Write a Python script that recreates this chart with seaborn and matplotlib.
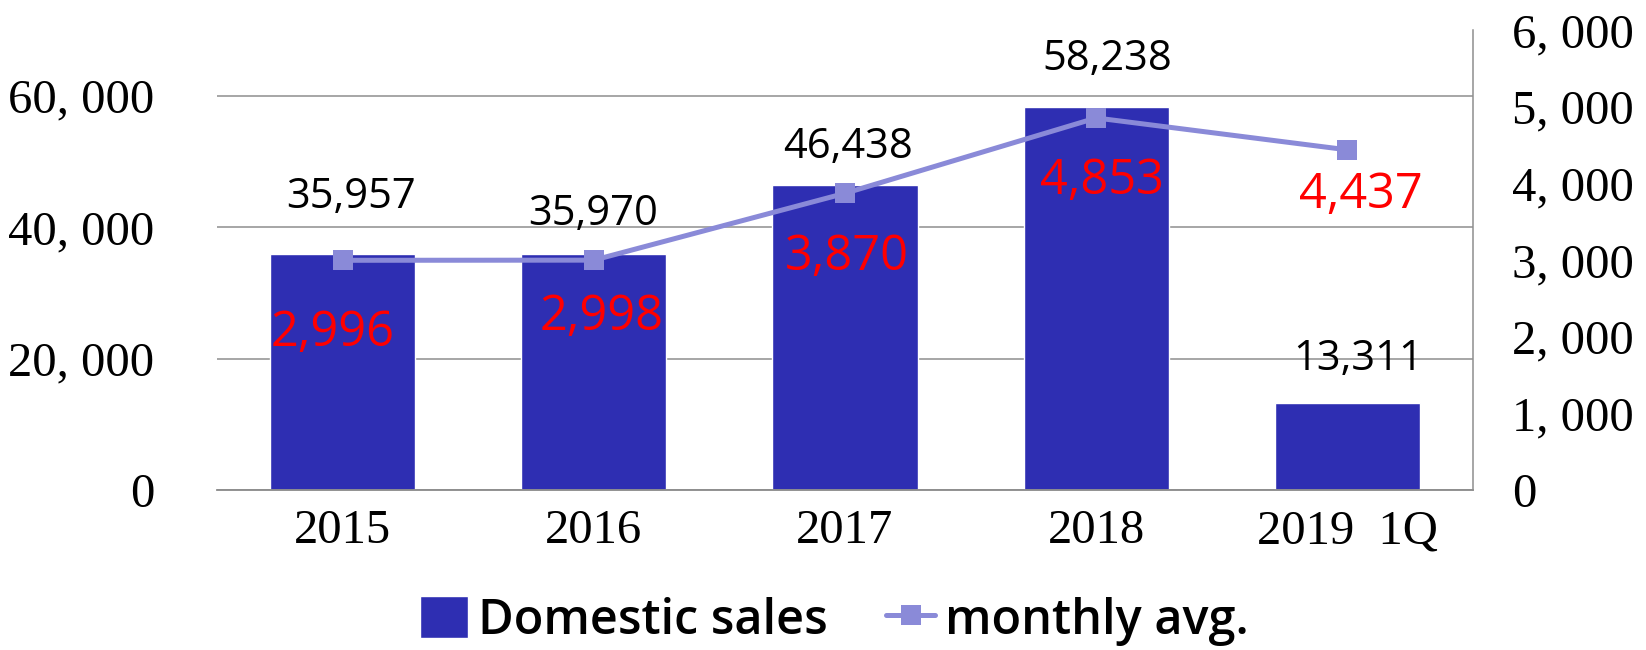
import numpy as np
import pandas as pd
import matplotlib
matplotlib.use('Agg')
import matplotlib.pyplot as plt
import seaborn as sns

# chart data
years = ['2015', '2016', '2017', '2018', '2019  1Q']
domestic_sales = [35957, 35970, 46438, 58238, 13311]
monthly_avg = [2996, 2998, 3870, 4853, 4437]

# hand-placed label offsets (px)
sales_off = [(9, 57), (-1, 40), (3, 38), (11, 48), (11, 44)]
avg_off = [(-10, -73), (8, -57), (2, -64), (6, -63), (13, -45)]

BAR = '#2E2EB2'
LINE = '#8A8AD8'
GRID = '#8E8E8E'

df = pd.DataFrame({'Year': years, 'Sales': domestic_sales, 'Avg': monthly_avg})

sns.set_style('white')
plt.rcParams['font.family'] = ['Open Sans', 'DejaVu Sans']
plt.rcParams['text.color'] = 'black'
plt.rcParams['xtick.color'] = 'black'
plt.rcParams['ytick.color'] = 'black'

fig = plt.figure(figsize=(16.46, 6.5), dpi=100)
ax = fig.add_axes([0.1318, 0.2462, 0.7631, 0.7076])
ax2 = ax.twinx()

sns.barplot(data=df, x='Year', y='Sales', ax=ax, color=BAR, saturation=1,
            width=0.578, label='Domestic sales')
sns.pointplot(data=df, x='Year', y='Avg', ax=ax2, color=LINE, markers='s',
              markersize=14.4, linewidth=3.6, markeredgewidth=0,
              errorbar=None, label='monthly avg.')

for a in (ax, ax2):
    if a.get_legend() is not None:
        a.get_legend().remove()

ax.set_xlim(-0.5, 4.5)
ax.set_ylim(0, 70000)
ax2.set_ylim(0, 6000)
ax.set_yticks([0, 20000, 40000, 60000])
ax2.set_yticks(range(0, 7000, 1000))
ax.yaxis.grid(True, color=GRID, linewidth=1.1)
ax.set_axisbelow(True)
ax2.grid(False)
ax.set_xlabel('')
ax.set_ylabel('')
ax2.set_xlabel('')
ax2.set_ylabel('')

serif = {'family': 'Liberation Serif', 'size': 35, 'color': 'black'}
ax.set_yticklabels([f'{v:,}'.replace(',', ', ') for v in [0, 20000, 40000, 60000]], fontdict=serif)
ax2.set_yticklabels([f'{v:,}'.replace(',', ', ') for v in range(0, 7000, 1000)], fontdict=serif)
ax.set_xticks(range(len(years)))
ax.set_xticklabels(years, fontdict=serif)
ax.tick_params(axis='y', length=0, pad=45)
ax.tick_params(axis='x', length=0, pad=14)
ax2.tick_params(axis='y', length=0, pad=28)

for a in (ax, ax2):
    for s in ['top', 'left', 'right']:
        a.spines[s].set_visible(False)
    a.spines['bottom'].set_color(GRID)
    a.spines['bottom'].set_linewidth(1.1)
ax2.spines['right'].set_visible(True)
ax2.spines['right'].set_color(GRID)
ax2.spines['right'].set_linewidth(1.1)

# value labels
for i, (v, (dx, dy)) in enumerate(zip(domestic_sales, sales_off)):
    ax.annotate(f'{v:,}', (i, v), xytext=(dx * 0.72, dy * 0.72),
                textcoords='offset points', ha='center', va='center',
                fontsize=30, color='black')
for i, (v, (dx, dy)) in enumerate(zip(monthly_avg, avg_off)):
    ax2.annotate(f'{v:,}', (i, v), xytext=(dx * 0.72, dy * 0.72),
                 textcoords='offset points', ha='center', va='center',
                 fontsize=35, color='red')

h1, l1 = ax.get_legend_handles_labels()
h2, l2 = ax2.get_legend_handles_labels()
leg = fig.legend(h1 + h2, l1 + l2, loc='center', bbox_to_anchor=(0.5067, 0.0446),
                 ncol=2, frameon=False, prop={'size': 35, 'weight': 'semibold'},
                 handlelength=1.0, handleheight=0.95, handletextpad=0.2,
                 columnspacing=1.2)
for t in leg.get_texts():
    t.set_color('black')

fig.savefig('out.png', dpi=100)
